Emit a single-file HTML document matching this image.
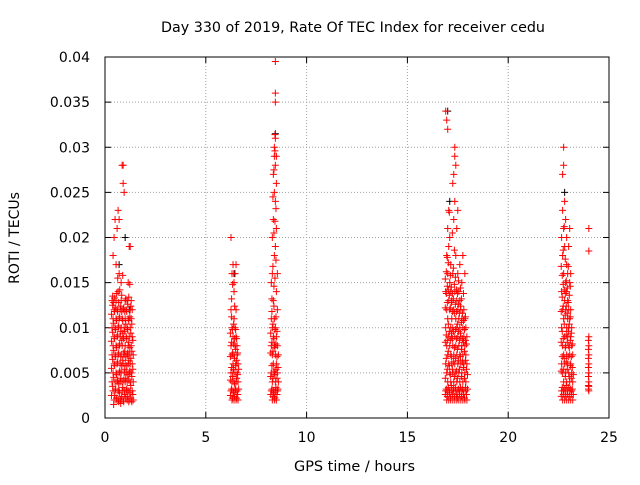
<!DOCTYPE html>
<html><head><meta charset="utf-8"><style>
body{margin:0;background:#fff}
svg text{font-family:"DejaVu Sans","Liberation Sans",sans-serif;font-size:14px;fill:#000}
</style></head><body>
<svg id="chart" width="640" height="480" xmlns="http://www.w3.org/2000/svg">
<rect width="640" height="480" fill="#fff"/>
<text x="161" y="32" textLength="384" lengthAdjust="spacingAndGlyphs">Day 330 of 2019, Rate Of TEC Index for receiver cedu</text>
<text x="294" y="471" textLength="121" lengthAdjust="spacingAndGlyphs">GPS time / hours</text>
<text transform="translate(19,238) rotate(-90)" text-anchor="middle">ROTI / TECUs</text>
<g id="grid"></g>
<g id="ticks"></g>
<g id="black"></g>
<g id="red"></g>
<rect x="105" y="57" width="504" height="361" fill="none" stroke="#000" stroke-width="1"/>
</svg>
<script>
const xTicks=[0,5,10,15,20,25];
const xTickLabels=["0","5","10","15","20","25"];
const yTicks=[0,0.005,0.01,0.015,0.02,0.025,0.03,0.035,0.04];
const yTickLabels=["0","0.005","0.01","0.015","0.02","0.025","0.03","0.035","0.04"];
const groupTimes=[0.35,0.40,0.45,0.50,0.55,0.60,0.65,0.70,0.75,0.80,0.85,0.90,0.95,1.00,1.05,1.10,1.15,1.20,1.25,1.30,1.35,1.40,
6.25,6.30,6.35,6.40,6.45,6.50,6.55,6.60,
8.25,8.30,8.35,8.40,8.45,8.50,8.55,8.60,
16.90,16.95,17.00,17.05,17.10,17.15,17.20,17.25,17.30,17.35,17.40,17.45,17.50,17.55,17.60,17.65,17.70,17.75,17.80,17.85,17.90,17.95,
22.65,22.70,22.75,22.80,22.85,22.90,22.95,23.00,23.05,23.10,23.15,23.20,
24.00];
const groupValues=[
[.004,.007,.010,.013],[.003,.005,.008,.011,.018],[.002,.006,.009,.012,.020],[.003,.004,.007,.010,.022],[.002,.005,.008,.011,.013,.017],[.004,.006,.009,.012,.021],[.002,.003,.007,.010,.014,.023],[.003,.005,.008,.011,.016,.022],[.002,.004,.006,.009,.012],[.002,.005,.007,.010,.013,.015],[.003,.004,.008,.011,.028],[.002,.006,.009,.012,.026,.028],[.003,.005,.007,.010,.025],[.004,.006,.008,.011,.013],[.003,.005,.009,.012],[.002,.004,.007,.010,.013],[.003,.006,.008,.011,.015],[.002,.005,.007,.009,.019],[.003,.004,.006,.010,.012,.019],[.002,.005,.008,.011,.013],[.003,.006,.009,.012],[.002,.004,.007],
[.003,.005,.008,.012,.020],[.002,.004,.007,.010,.016],[.003,.005,.006,.009,.017],[.002,.004,.007,.011,.014,.015],[.003,.005,.008,.010,.016],[.002,.004,.006,.009,.012,.017],[.003,.005,.007,.008],[.002,.004,.006],
[.003,.005,.008,.011,.015],[.002,.004,.007,.010,.016,.020],[.003,.006,.009,.013,.022,.027],[.002,.005,.008,.011,.018,.025,.029,.030],[.003,.004,.007,.010,.019,.024,.028,.031,.035,.036,.0395],[.002,.006,.009,.014,.021,.026,.029],[.003,.005,.008,.012,.016],[.004,.007],
[.003,.006,.010,.014,.034],[.002,.005,.008,.012,.018,.033],[.003,.004,.007,.011,.016,.021,.032],[.002,.006,.009,.013,.019,.023],[.003,.005,.008,.012,.015,.020],[.002,.004,.007,.010,.014,.017],[.003,.006,.009,.011,.013],[.002,.005,.008,.010,.016,.026],[.003,.004,.007,.012,.022,.027],[.002,.006,.009,.014,.024,.029,.030],[.003,.005,.008,.011,.018,.028],[.002,.004,.007,.010,.013,.021],[.003,.006,.009,.012,.016,.023],[.002,.005,.008,.011,.014],[.003,.004,.007,.010,.013,.017],[.002,.006,.009,.012],[.003,.005,.008,.011,.015],[.002,.004,.007,.010,.018],[.003,.006,.009,.012],[.002,.005,.008,.011,.016],[.003,.004,.007,.010],[.002,.006,.009],
[.003,.006,.010,.014,.020],[.002,.005,.008,.012,.018,.023,.027],[.003,.004,.007,.011,.016,.021,.028,.030],[.002,.006,.009,.013,.019,.024],[.003,.005,.008,.012,.015,.022],[.002,.004,.007,.010,.014,.017,.020],[.003,.006,.009,.011,.013,.016],[.002,.005,.008,.010,.012,.019],[.003,.004,.007,.011,.015,.021],[.002,.006,.009,.012,.016],[.003,.005,.008,.010],[.002,.004,.007],
[.0030,.0035,.004,.005,.006,.007,.008,.009,.0185,.021]];
const denseTimes=[0.32,0.38,0.43,0.48,0.53,0.58,0.63,0.68,0.73,0.78,0.83,0.88,0.93,0.98,1.03,1.08,1.13,1.18,1.23,1.28,1.33,1.38,
6.22,6.28,6.33,6.38,6.43,6.48,6.53,6.58,6.63,
8.22,8.28,8.33,8.38,8.43,8.48,8.53,8.58,
16.88,16.93,16.98,17.03,17.08,17.13,17.18,17.23,17.28,17.33,17.38,17.43,17.48,17.53,17.58,17.63,17.68,17.73,17.78,17.83,17.88,17.93,17.98,
22.63,22.68,22.73,22.78,22.83,22.88,22.93,22.98,23.03,23.08,23.13,23.18,23.23,
23.98];
const denseValues=[
[.0025,.0055,.0085,.0115],[.0035,.0065,.0095,.0125,.0135],[.0015,.0045,.0075,.0105,.0128],[.0025,.0058,.0088,.0118,.0133],[.0032,.0068,.0098,.0122],[.0022,.0048,.0078,.0108,.0138],[.0042,.0062,.0092,.0118,.0155],[.0018,.0038,.0072,.0102,.0128],[.0028,.0052,.0082,.0112,.0142],[.0016,.0044,.0068,.0096,.0124],[.0024,.0058,.0086,.0118,.0136],[.0034,.0064,.0094,.0108,.0158],[.0018,.0042,.0072,.0088,.0122],[.0026,.0054,.0074,.0096,.0118],[.0022,.0044,.0068,.0104,.0132],[.0032,.0058,.0088,.0118],[.0024,.0048,.0072,.0098,.0126],[.0018,.0042,.0064,.0084,.0108,.0134],[.0028,.0052,.0078,.0112,.0148],[.0022,.0036,.0066,.0094,.0124],[.0018,.0046,.0074,.0104],[.0026,.0054,.0086],
[.0025,.0042,.0068,.0094],[.0032,.0056,.0084,.0112,.0132],[.0022,.0046,.0072,.0098,.0148],[.0028,.0054,.0082,.0104],[.0024,.0038,.0066,.0088,.0124],[.0032,.0058,.0076,.0098],[.0022,.0044,.0064,.0088],[.0026,.0048,.0072],[.0032,.0054],
[.0026,.0046,.0072,.0094],[.0032,.0058,.0084,.0118,.0132],[.0024,.0044,.0074,.0104,.0168,.0245],[.0028,.0052,.0088,.0124,.0146,.0205,.0275],[.0022,.0048,.0078,.0098,.0155,.0218,.0296,.0314],[.0034,.0054,.0082,.0112,.0175,.0232],[.0026,.0044,.0068,.0096],[.0032,.0056],
[.0026,.0044,.0084,.0122,.0154],[.0032,.0066,.0092,.0138,.0162],[.0024,.0054,.0086,.0128,.0146,.0178],[.0034,.0074,.0104,.0142,.0172],[.0028,.0058,.0096,.0136,.0228],[.0022,.0048,.0086,.0122,.0158],[.0036,.0068,.0094,.0128,.0145],[.0026,.0054,.0088,.0118,.0138,.0205],[.0032,.0062,.0096,.0132,.0166],[.0024,.0046,.0078,.0116,.0148,.0186],[.0034,.0066,.0098,.0126,.0156],[.0026,.0052,.0088,.0118,.0142],[.0022,.0044,.0076,.0104,.0138],[.0032,.0064,.0096,.0126,.0152],[.0026,.0054,.0086,.0116],[.0034,.0068,.0094,.0124,.0144],[.0024,.0046,.0076,.0106,.0132],[.0032,.0062,.0088,.0116],[.0026,.0056,.0084,.0108,.0138],[.0022,.0044,.0074,.0098],[.0034,.0064,.0086,.0112],[.0026,.0054,.0082],[.0032,.0048],
[.0024,.0052,.0084,.0118,.0168],[.0034,.0068,.0096,.0134,.0158],[.0026,.0054,.0088,.0124,.0148,.0186],[.0032,.0066,.0104,.0142,.0212],[.0024,.0046,.0078,.0114,.0138,.0176],[.0036,.0062,.0092,.0124,.0152],[.0026,.0054,.0084,.0116,.0144],[.0034,.0068,.0096,.0128,.0168],[.0024,.0046,.0078,.0104,.0136],[.0032,.0058,.0086,.0112,.0146],[.0026,.0044,.0068,.0094],[.0032,.0056,.0082],[.0026,.0048],
[.0032,.0036,.0046,.0056,.0066,.0076,.0086]];
const blackTimes=[0.7,1.0,1.2,6.4,8.45,17.0,17.1,22.8];
const blackValues=[.017,.020,.012,.016,.0315,.034,.024,.025];

const X0=105,X1=609,Y0=418,Y1=57;
const xs=t=>X0+(t/25)*(X1-X0);
const ys=v=>Y0-(v/0.04)*(Y0-Y1);
const NS="http://www.w3.org/2000/svg";
function mk(tag,attrs,parent){const e=document.createElementNS(NS,tag);for(const k in attrs)e.setAttribute(k,attrs[k]);parent.appendChild(e);return e;}
const grid=document.getElementById('grid'),ticks=document.getElementById('ticks');
xTicks.forEach((t,i)=>{const x=xs(t);
 if(i>0&&i<xTicks.length-1){const l=mk('line',{x1:x,x2:x,y1:Y0,y2:Y1,stroke:'#a0a0a0','stroke-dasharray':'1,2'},grid);
 
 }
 mk('line',{x1:x,x2:x,y1:Y0,y2:Y0-6,stroke:'#000'},ticks);
 mk('line',{x1:x,x2:x,y1:Y1,y2:Y1+6,stroke:'#000'},ticks);
 const tx=mk('text',{x:x,y:442,'text-anchor':'middle'},ticks);tx.textContent=xTickLabels[i];
 
 });
yTicks.forEach((v,i)=>{const y=ys(v);
 if(i>0&&i<yTicks.length-1){const l=mk('line',{x1:X0,x2:X1,y1:y,y2:y,stroke:'#a0a0a0','stroke-dasharray':'1,2'},grid);
 
 }
 mk('line',{x1:X0,x2:X0+6,y1:y,y2:y,stroke:'#000'},ticks);
 mk('line',{x1:X1,x2:X1-6,y1:y,y2:y,stroke:'#000'},ticks);
 const tx=mk('text',{x:90,y:y+5,'text-anchor':'end'},ticks);tx.textContent=yTickLabels[i];
 
 });
function plus(t,v,color,parent){const x=xs(t),y=ys(v);
 const p=mk('path',{d:`M${x-3.5},${y}H${x+3.5}M${x},${y-3.5}V${y+3.5}`,stroke:color,'stroke-width':1,fill:'none'},parent);
 
 }
const blk=document.getElementById('black'),red=document.getElementById('red');
blackTimes.forEach((t,i)=>plus(t,blackValues[i],'#000',blk));
groupTimes.forEach((t,i)=>groupValues[i].forEach(v=>plus(t,v,'#ff0000',red)));
denseTimes.forEach((t,i)=>denseValues[i].forEach(v=>plus(t,v,'#ff0000',red)));
</script>
</body></html>
